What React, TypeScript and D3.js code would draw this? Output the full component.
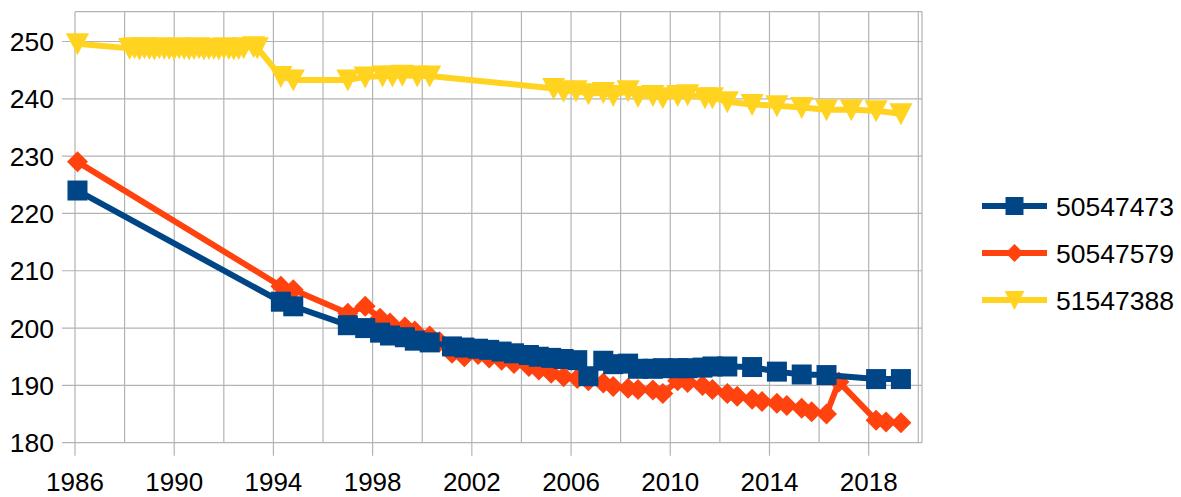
import React from 'react';
import * as d3 from 'd3';

// measurement dates (decimal years) and values per station
const blueYears = [1986.1, 1994.3, 1994.8, 1997.0, 1997.7, 1998.3, 1998.7, 1999.3, 1999.7, 2000.3,
  2001.2, 2001.7, 2002.25, 2002.7, 2003.2, 2003.7, 2004.3, 2004.7, 2005.2, 2005.7, 2006.25, 2006.7,
  2007.3, 2007.7, 2008.3, 2008.7, 2009.3, 2009.7, 2010.3, 2010.7, 2011.3, 2011.7, 2012.3, 2013.3,
  2014.3, 2015.3, 2016.3, 2018.3, 2019.3];
const blueValues = [224.0, 204.6, 203.8, 200.5, 200.0, 199.2, 198.7, 198.4, 197.8, 197.5,
  196.8, 196.6, 196.4, 196.2, 195.9, 195.6, 195.3, 195.0, 194.8, 194.6, 194.4, 191.6,
  194.3, 193.7, 193.8, 192.9, 192.9, 193.0, 193.0, 193.0, 193.1, 193.3, 193.3, 193.2,
  192.4, 191.9, 191.8, 191.1, 191.1];

const orangeYears = [1986.1, 1994.3, 1994.8, 1997.0, 1997.7, 1998.3, 1998.7, 1999.3, 1999.7, 2000.3,
  2000.7, 2001.2, 2001.7, 2002.25, 2002.7, 2003.2, 2003.7, 2004.3, 2004.7, 2005.2, 2005.7, 2006.25,
  2006.7, 2007.3, 2007.7, 2008.3, 2008.7, 2009.3, 2009.7, 2010.3, 2010.7, 2011.3, 2011.7, 2012.3,
  2012.7, 2013.3, 2013.7, 2014.3, 2014.7, 2015.3, 2015.7, 2016.3, 2016.8, 2018.3, 2018.7, 2019.3];
const orangeValues = [229.0, 207.3, 206.7, 202.6, 203.8, 201.7, 200.9, 200.2, 199.5, 198.6,
  197.6, 195.6, 195.0, 195.4, 194.8, 194.4, 193.8, 193.3, 192.7, 192.1, 191.5, 191.2,
  190.8, 190.4, 189.8, 189.5, 189.3, 189.2, 188.6, 190.8, 190.5, 190.0, 189.3, 188.6,
  188.1, 187.6, 187.2, 186.9, 186.5, 186.0, 185.4, 185.0, 190.6, 183.9, 183.6, 183.5];

const yellowYears = [1986.1, 1988.2, 1988.4, 1988.6, 1988.8, 1989.0, 1989.2, 1989.4, 1989.6, 1989.8,
  1990.0, 1990.2, 1990.4, 1990.6, 1990.8, 1991.0, 1991.2, 1991.4, 1991.6, 1991.8, 1992.0, 1992.2,
  1992.4, 1992.6, 1992.8, 1993.2, 1993.35, 1994.3, 1994.8, 1997.0, 1997.7, 1998.4, 1998.8, 1999.2,
  1999.8, 2000.3, 2005.3, 2005.7, 2006.2, 2006.7, 2007.3, 2007.7, 2008.3, 2008.7, 2009.3, 2009.7,
  2010.3, 2010.7, 2011.4, 2011.7, 2012.3, 2013.3, 2014.3, 2015.3, 2016.3, 2017.3, 2018.3, 2019.3];
const yellowValues = [249.6, 248.8, 248.9, 248.7, 248.9, 248.8, 248.7, 248.9, 248.8, 248.8,
  248.7, 248.9, 248.8, 248.7, 248.8, 248.9, 248.7, 248.8, 248.8, 248.7, 248.9, 248.8,
  248.7, 248.8, 248.9, 249.1, 248.9, 243.9, 243.3, 243.3, 243.8, 244.0, 244.0, 244.1,
  244.0, 244.0, 241.8, 241.3, 241.4, 240.9, 241.1, 240.6, 241.4, 240.4, 240.6, 240.2,
  240.6, 240.7, 240.2, 240.2, 239.5, 239.0, 238.8, 238.5, 238.1, 238.1, 237.9, 237.4];

const yTicks = [180, 190, 200, 210, 220, 230, 240, 250];
const xGrid = d3.range(1986, 2021, 2);
const xLabels = d3.range(1986, 2019, 4);

const W = 1181;
const H = 497;
const FONT = '"Liberation Sans", Arial, sans-serif';
const GRID = '#b3b3b3';

const x = d3.scaleLinear().domain([1986, 2020.15]).range([75, 922]);
const y = d3.scaleLinear().domain([180, 255.2]).range([442.7, 11.7]);

type Shape = 'square' | 'diamond' | 'triangle';

// marker outline centred on 0,0
const markerPath = (shape: Shape, s: number) => {
  const h = s / 2;
  if (shape === 'square') return `M${-h},${-h}H${h}V${h}H${-h}Z`;
  if (shape === 'diamond') return `M0,${-h}L${h},0L0,${h}L${-h},0Z`;
  const w = s * 0.55;
  return `M${-w},${-h}L${w},${-h}L0,${h + 1}Z`;
};

const series = [
  { name: '50547579', color: '#ff420e', shape: 'diamond' as Shape, years: orangeYears, values: orangeValues, size: 21 },
  { name: '50547473', color: '#004586', shape: 'square' as Shape, years: blueYears, values: blueValues, size: 20 },
  { name: '51547388', color: '#ffd320', shape: 'triangle' as Shape, years: yellowYears, values: yellowValues, size: 21 },
];
const legendOrder = ['50547473', '50547579', '51547388'];

const line = d3.line<[number, number]>()
  .x(d => x(d[0]))
  .y(d => y(d[1]));

export default function App() {
  const [x0, x1] = x.range();
  const [y0, y1] = y.range();
  return (
    <svg width={W} height={H} style={{ position: 'absolute', left: 0, top: 0, background: '#fff' }}>
      {/* grid */}
      {yTicks.map(t => (
        <line key={'h' + t} x1={62} x2={x1} y1={y(t)} y2={y(t)} stroke={GRID} strokeWidth={1.2} />
      ))}
      {xGrid.map(t => (
        <line key={'v' + t} x1={x(t)} x2={x(t)} y1={y1} y2={xLabels.includes(t) ? y0 + 13 : y0}
          stroke={GRID} strokeWidth={1.2} />
      ))}
      <line x1={x0} x2={x1} y1={y1} y2={y1} stroke={GRID} strokeWidth={1.2} />
      <line x1={x1} x2={x1} y1={y1} y2={y0} stroke={GRID} strokeWidth={1.2} />

      {/* axis labels */}
      {yTicks.map(t => (
        <text key={'yl' + t} x={54} y={y(t)} dy="0.36em" textAnchor="end"
          fontFamily={FONT} fontSize={26.5} fill="#000">{t}</text>
      ))}
      {xLabels.map(t => (
        <text key={'xl' + t} x={x(t)} y={491} textAnchor="middle"
          fontFamily={FONT} fontSize={26} fill="#000">{t}</text>
      ))}

      {/* series */}
      {series.map(s => {
        const pts = s.years.map((yr, i) => [yr, s.values[i]] as [number, number]);
        return (
          <g key={s.name}>
            <path d={line(pts) || ''} fill="none" stroke={s.color} strokeWidth={6}
              strokeLinejoin="round" />
            {pts.map((p, i) => (
              <path key={i} d={markerPath(s.shape, s.size)}
                transform={`translate(${x(p[0])},${y(p[1])})`} fill={s.color} />
            ))}
          </g>
        );
      })}

      {/* legend */}
      {legendOrder.map((name, i) => {
        const s = series.find(d => d.name === name)!;
        const ly = 206 + i * 47;
        return (
          <g key={'lg' + name}>
            <line x1={982} x2={1047} y1={ly} y2={ly} stroke={s.color} strokeWidth={6} />
            <path d={markerPath(s.shape, 18)} transform={`translate(1014.5,${ly})`} fill={s.color} />
            <text x={1056} y={ly} dy="0.36em" fontFamily={FONT} fontSize={26.5} fill="#000">{name}</text>
          </g>
        );
      })}
    </svg>
  );
}
